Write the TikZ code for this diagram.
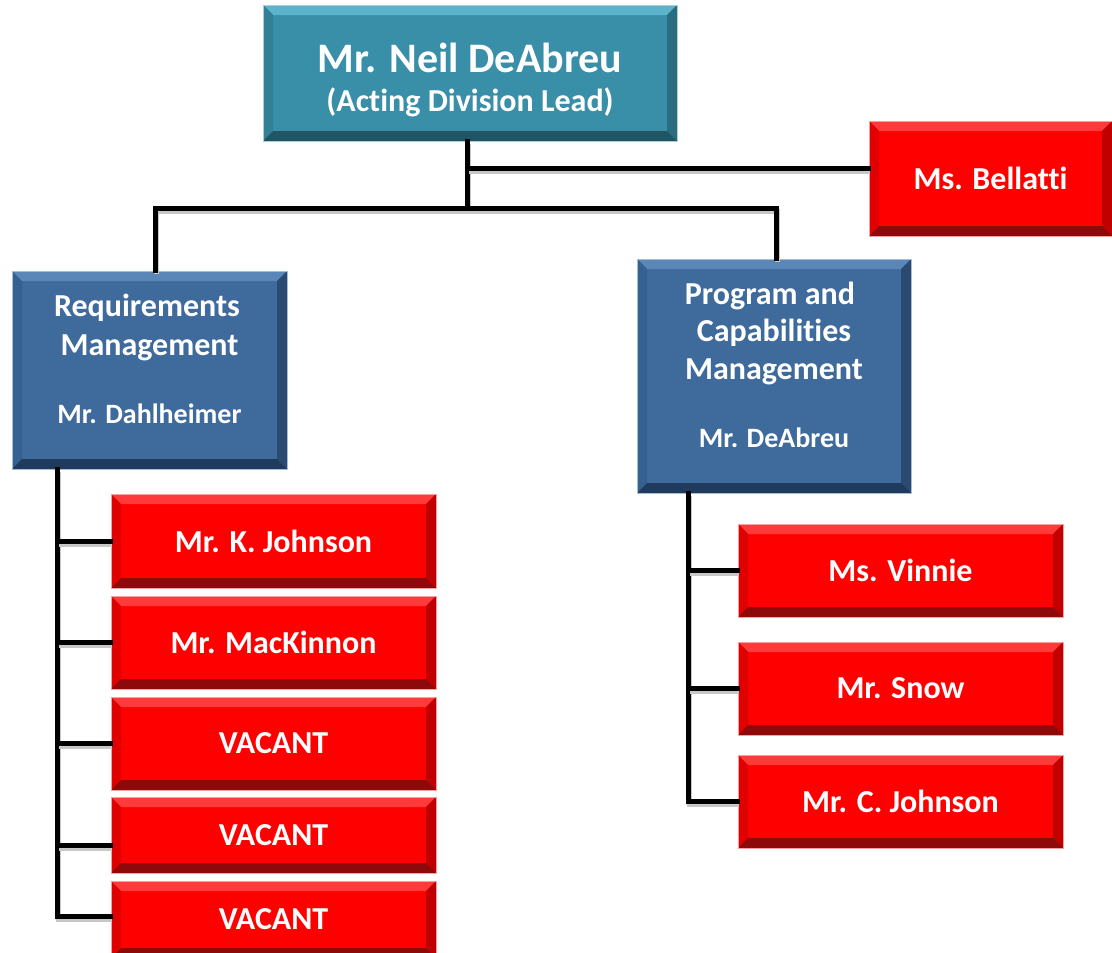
\documentclass[tikz,border=0pt]{standalone}
\usepackage{fontspec}
\setmainfont{Carlito}[Ligatures=NoCommon]
\usetikzlibrary{calc}
\tikzset{
  bevelbox/.style n args={6}{rectangle, inner sep=0pt, fill=#1, draw=#6, line width=0.8pt,
    text=white, font=\bfseries, align=center,
    path picture={
      \def\bw{10}
      \coordinate (NW) at (path picture bounding box.north west);
      \coordinate (SE) at (path picture bounding box.south east);
      \coordinate (NE) at (path picture bounding box.north east);
      \coordinate (SW) at (path picture bounding box.south west);
      \fill[#2] (NW) -- (NE) -- ($(NE)+(-\bw,\bw)$) -- ($(NW)+(\bw,\bw)$) -- cycle;
      \fill[#3] (NW) -- ($(NW)+(\bw,\bw)$) -- ($(SW)+(\bw,-\bw)$) -- (SW) -- cycle;
      \fill[#4] (NE) -- ($(NE)+(-\bw,\bw)$) -- ($(SE)+(-\bw,-\bw)$) -- (SE) -- cycle;
      \fill[#5] (SW) -- ($(SW)+(\bw,-\bw)$) -- ($(SE)+(-\bw,-\bw)$) -- (SE) -- cycle;
    }},
  redbox/.style={bevelbox={red1}{red2}{red3}{red4}{red5}{red6}, font=\fontsize{32}{38}\selectfont\bfseries},
  bluebox/.style={bevelbox={blue1}{blue2}{blue3}{blue4}{blue5}{blue6}},
  tealbox/.style={bevelbox={teal1}{teal2}{teal3}{teal4}{teal5}{teal6}},
  boxtext/.style={text=white, align=center, inner sep=0pt},
  unittext/.style={boxtext, anchor=base, font=\fontsize{32}{38}\selectfont\bfseries},
  headtext/.style={boxtext, anchor=base, font=\fontsize{28}{32}\selectfont\bfseries},
  conn/.style={line width=5pt, line join=miter, line cap=rect, black,
    preaction={draw=black!22, line width=5pt, transform canvas={shift={(1.5pt,-3pt)}}}},
}
\definecolor{red1}{HTML}{FF0000}
\definecolor{red2}{HTML}{FF3A3A}
\definecolor{red3}{HTML}{E00000}
\definecolor{red4}{HTML}{C00000}
\definecolor{red5}{HTML}{8E0A0A}
\definecolor{red6}{HTML}{F8A0A0}
\definecolor{blue1}{HTML}{3F6A9C}
\definecolor{blue2}{HTML}{5B86B8}
\definecolor{blue3}{HTML}{36608F}
\definecolor{blue4}{HTML}{2A4A70}
\definecolor{blue5}{HTML}{1F3A5C}
\definecolor{blue6}{HTML}{A8BCD6}
\definecolor{teal1}{HTML}{398EA8}
\definecolor{teal2}{HTML}{5BB3CC}
\definecolor{teal3}{HTML}{327F96}
\definecolor{teal4}{HTML}{2A6D80}
\definecolor{teal5}{HTML}{1F5565}
\definecolor{teal6}{HTML}{A8D0DC}
\begin{document}
\begin{tikzpicture}[x=1pt,y=-1pt]
\useasboundingbox (0,0) rectangle (1112,953);
% boxes
\node[tealbox, minimum width=414pt, minimum height=136pt] (top) at (470,73) {};
\node[boxtext, font=\fontsize{42}{45}\selectfont\bfseries] (topt1) at (470,58) {Mr. Neil DeAbreu};
\node[boxtext, font=\fontsize{32}{40}\selectfont\bfseries] (topt2) at (470,102) {(Acting Division Lead)};
\node[redbox, minimum width=243pt, minimum height=115pt] (bell) at (990.5,178.5) {Ms. Bellatti};
\node[bluebox, minimum width=275pt, minimum height=198pt] (req) at (149.5,370) {};
\node[unittext] (reqt1) at (147,316) {Requirements};
\node[unittext] (reqt2) at (149.5,355) {Management};
\node[headtext] (reqt3) at (149.5,423) {Mr. Dahlheimer};
\node[bluebox, minimum width=274pt, minimum height=234pt] (prog) at (774,376) {};
\node[unittext] (progt1) at (770,304) {Program and};
\node[unittext] (progt2) at (774,341) {Capabilities};
\node[unittext] (progt3) at (774,379) {Management};
\node[headtext] (progt4) at (774,447) {Mr. DeAbreu};
\node[redbox, minimum width=325pt, minimum height=94pt] (kj) at (273.5,541) {Mr. K. Johnson};
\node[redbox, minimum width=325pt, minimum height=93pt] (mac) at (273.5,642.5) {Mr. MacKinnon};
\node[redbox, minimum width=325pt, minimum height=93pt] (v1) at (273.5,743.5) {VACANT};
\node[redbox, minimum width=325pt, minimum height=76pt] (v2) at (273.5,835) {VACANT};
\node[redbox, minimum width=325pt, minimum height=77pt] (v3) at (273.5,919.5) {VACANT};
\node[redbox, minimum width=325pt, minimum height=93pt] (vin) at (900.5,570.5) {Ms. Vinnie};
\node[redbox, minimum width=325pt, minimum height=93pt] (snow) at (900.5,688.5) {Mr. Snow};
\node[redbox, minimum width=325pt, minimum height=93pt] (cj) at (900.5,801.5) {Mr. C. Johnson};
% junction coordinates
\coordinate (j0) at (467,168);
\coordinate (j1) at (467,208);
\coordinate (rl) at (155,208);
\coordinate (pl) at (776,208);
\coordinate (ls) at (57,916);
\coordinate (b4) at (57,845);
\coordinate (rs) at (688,801);
% connectors
\draw[conn] (j1 |- top.south) -- (j1);
\draw[conn] (j0) -- (j0 -| bell.west);
\draw[conn] (rl |- req.north) -- (rl) -- (pl) -- (pl |- prog.north);
\draw[conn] (ls |- req.south) -- (ls) -- (ls -| v3.west);
\draw[conn] (ls |- kj.west) -- (kj.west);
\draw[conn] (ls |- mac.west) -- (mac.west);
\draw[conn] (ls |- v1.west) -- (v1.west);
\draw[conn] (b4) -- (b4 -| v2.west);
\draw[conn] (rs |- prog.south) -- (rs) -- (rs -| cj.west);
\draw[conn] (rs |- vin.west) -- (vin.west);
\draw[conn] (rs |- snow.west) -- (snow.west);
\end{tikzpicture}
\end{document}
